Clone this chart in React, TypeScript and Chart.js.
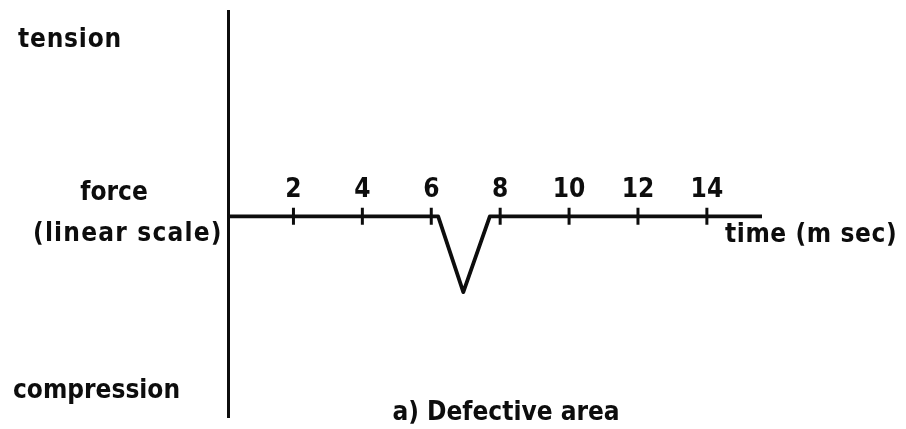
import { useEffect, useRef } from "react";
import { Chart, registerables } from "chart.js";

Chart.register(...registerables);

// Force trace over time (ms): flat, with one compression dip around 7 ms.
const TIME_MS = [0.1, 6.2, 6.93, 7.7, 15.6];
const FORCE = [0, 0, -0.37, 0, 0];

// Time-axis tick positions and their labels.
const TICK_VALUES = [2, 4, 6, 8, 10, 12, 14];
const TICK_LABELS = ["2", "4", "6", "8", "10", "12", "14"];

const X_MIN = 0.1;
const X_MAX = 15.6;
const Y_MIN = -0.98;
const Y_MAX = 1;

const INK = "#0d0d0d";
const FAMILY = "'DejaVu Sans Condensed', 'DejaVu Sans', sans-serif";
const LABEL_FONT = `bold 26px ${FAMILY}`;

// Free-standing text around the axes: text, x, baseline y, alignment, letter spacing.
const annotations = {
  id: "annotations",
  afterDraw(chart: Chart) {
    const { ctx } = chart;
    const texts: [string, number, number, CanvasTextAlign, number][] = [
      ["tension", 18, 47, "left", 0.8],
      ["force", 114, 200, "center", 0],
      ["(linear scale)", 33, 241, "left", 1.2],
      ["compression", 13, 398, "left", 0],
      ["time (m sec)", 725, 242, "left", 0.6],
      ["a) Defective area", 506, 420, "center", 0],
    ];
    ctx.save();
    ctx.fillStyle = INK;
    ctx.font = LABEL_FONT;
    ctx.textBaseline = "alphabetic";
    for (const [t, x, y, align, spacing] of texts) {
      (ctx as any).letterSpacing = `${spacing}px`;
      ctx.textAlign = align;
      ctx.fillText(t, x, y);
    }
    ctx.restore();
  },
};

export default function App() {
  const canvasRef = useRef<HTMLCanvasElement | null>(null);

  useEffect(() => {
    const canvas = canvasRef.current;
    if (!canvas) return;
    const chart = new Chart(canvas, {
      type: "scatter",
      data: {
        datasets: [
          {
            label: "force",
            data: TIME_MS.map((x, i) => ({ x, y: FORCE[i] })),
            showLine: true,
            borderColor: INK,
            borderWidth: 3.8,
            borderJoinStyle: "round",
            borderCapStyle: "round",
            pointRadius: 0,
            tension: 0,
          },
          {
            label: "ticks",
            data: TICK_VALUES.map((x) => ({ x, y: 0 })),
            showLine: false,
            pointStyle: "line",
            rotation: 90,
            pointRadius: 8.5,
            borderWidth: 3,
            borderColor: INK,
            backgroundColor: INK,
          },
        ],
      },
      options: {
        responsive: false,
        animation: false,
        layout: { padding: { left: 228, right: 144, top: 10, bottom: 12 } },
        plugins: {
          legend: { display: false },
          tooltip: { enabled: false },
        },
        scales: {
          x: {
            type: "linear",
            min: X_MIN,
            max: X_MAX,
            position: { y: 0 },
            afterBuildTicks: (axis: any) => {
              axis.ticks = TICK_VALUES.map((value) => ({ value }));
            },
            grid: { display: false, drawTicks: false },
            border: { display: false },
            ticks: {
              autoSkip: false,
              maxRotation: 0,
              padding: -42,
              color: INK,
              font: { family: FAMILY, size: 26, weight: "bold" },
              callback: (_v: any, i: number) => TICK_LABELS[i],
            },
          },
          y: {
            type: "linear",
            min: Y_MIN,
            max: Y_MAX,
            grid: { display: false, drawTicks: false },
            ticks: { display: false },
            border: { display: true, width: 3, color: INK },
          },
        },
      },
      plugins: [annotations],
    });
    return () => chart.destroy();
  }, []);

  return (
    <div style={{ position: "absolute", left: 0, top: 0, width: 906, height: 429, background: "#fff" }}>
      <canvas ref={canvasRef} width={906} height={429} />
    </div>
  );
}
